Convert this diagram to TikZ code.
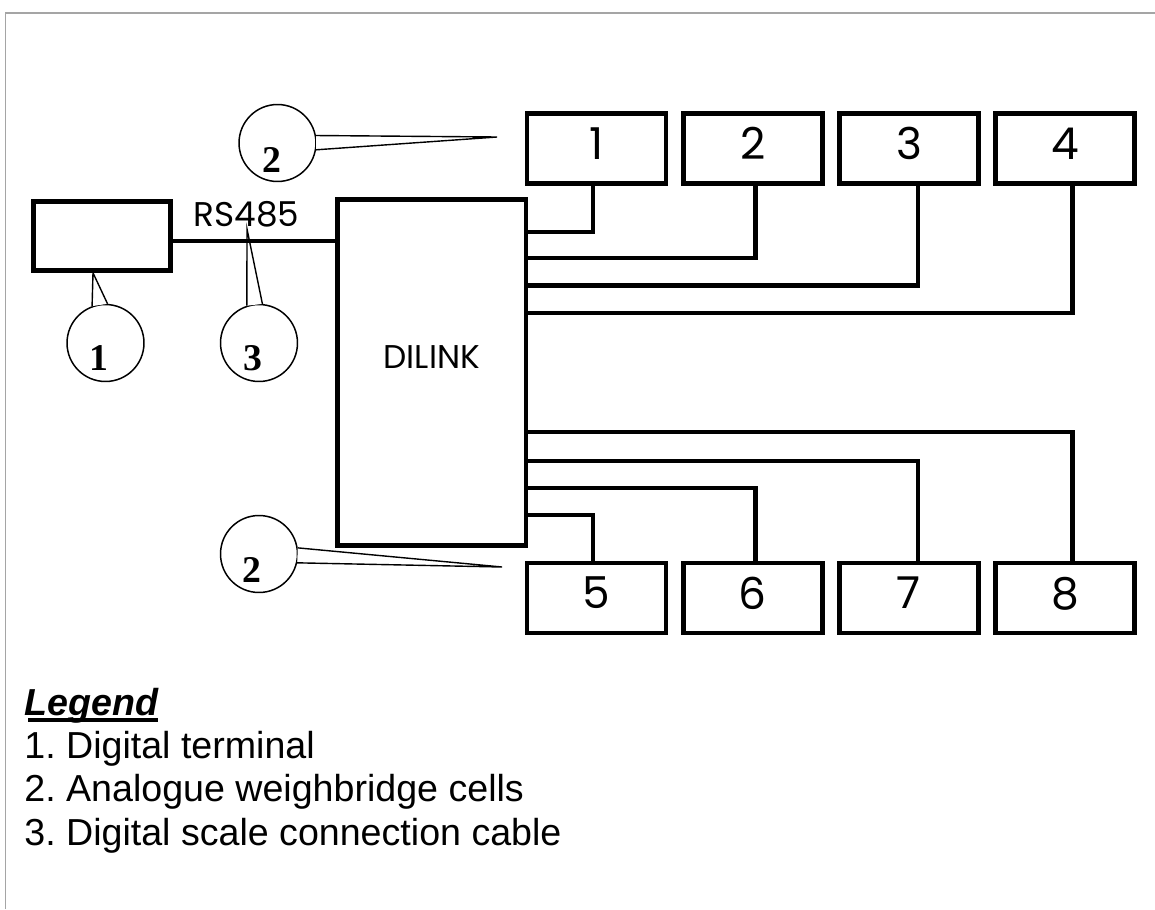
\documentclass[tikz,border=0pt]{standalone}
\usepackage{fontspec}
\setmainfont{Liberation Sans}
\newfontfamily\cadfont{Poppins}
\newfontfamily\tagfont{Liberation Serif}
\usetikzlibrary{calc,positioning}
\definecolor{framegray}{RGB}{165,165,165}
\pgfdeclarelayer{back}
\pgfsetlayers{back,main}
\frenchspacing

\begin{document}
\begin{tikzpicture}[x=0.02cm,y=-0.02cm,
  wire/.style={line width=2.7pt},
  unit/.style={draw,line width=2.7pt,inner sep=0pt},
  cell/.style={unit,minimum width=2.78cm,minimum height=1.40cm,
    font=\cadfont\fontsize{25}{27}\selectfont,text depth=0.2cm},
  callout/.style={circle,draw,line width=0.85pt,minimum size=1.54cm,inner sep=0pt},
  cnum/.style={font=\tagfont\bfseries\fontsize{21.5}{23}\selectfont,inner sep=0pt},
  leader/.style={line width=0.8pt},
  legtxt/.style={anchor=base west,inner sep=0pt,font=\fontsize{21.4}{24}\selectfont}]
  \useasboundingbox (0,0) rectangle (1155,909);
  \draw[framegray,line width=1.1pt] (5.5,909) -- (5.5,12.7) -- (1155,12.7);

  % terminal, link box and cells
  \node[unit,minimum width=2.74cm,minimum height=1.38cm] (term) at (102,236) {};
  \node[unit,minimum width=3.77cm,minimum height=6.92cm,text depth=0.62cm,
    font=\cadfont\fontsize{18.7}{20}\selectfont] (dilink) at (431.75,372.5) {DILINK};
  \node[inner sep=0pt,font=\cadfont\fontsize{19.5}{21}\selectfont] (rstxt) at (246.5,214) {RS485};

  \node[cell] (cell1) at (596.5,148.5) {1};
  \foreach \i [count=\j from 1] in {2,3,4}
    \node[cell,right=0.25cm of cell\j] (cell\i) {\i};
  \node[cell] (cell5) at (596.5,598) {5};
  \foreach \i [count=\j from 5] in {6,7,8}
    \node[cell,right=0.25cm of cell\j] (cell\i) {\i};

  % wiring
  \draw[wire] (term.east |- 0,241) -- (dilink.west |- 0,241);
  \foreach \k/\yy/\dx in {1/232/-3.5,2/258/3,3/285.5/9,4/313/7.5}
    \draw[wire] (dilink.east |- 0,\yy) -| ($(cell\k.south)+(\dx,0)$);
  \foreach \k/\yy/\dx in {5/515/-3.5,6/488/3,7/461/9,8/432/7.5}
    \draw[wire] (dilink.east |- 0,\yy) -| ($(cell\k.north)+(\dx,0)$);

  % callouts
  \begin{pgfonlayer}{back}
    \node[callout,label={[cnum,xshift=-0.13cm,yshift=-0.3cm]center:1}] (tag1) at (105.5,343) {};
    \node[callout,label={[cnum,xshift=-0.13cm,yshift=-0.3cm]center:3}] (tag3) at (259,343) {};
    \node[callout,label={[cnum,xshift=-0.12cm,yshift=-0.33cm]center:2}] (tag2a) at (277.5,143) {};
    \node[callout,label={[cnum,xshift=-0.15cm,yshift=-0.31cm]center:2}] (tag2b) at (259,554) {};
    \coordinate (tip1) at ($(term.south)+(-9,0)$);
    \coordinate (tip3) at (247,229);
    \coordinate (tip2a) at (497,137);
    \coordinate (tip2b) at (502,567);
    \foreach \t/\a/\b in {1/110.6/87.8, 3/108.4/85.6, 2a/11.7/-10.3, 2b/9/-13.3} {
      \fill[white] (tip\t) -- (tag\t.\a) -- (tag\t.\b) -- cycle;
      \draw[leader] (tag\t.\a) -- (tip\t) -- (tag\t.\b);
    }
  \end{pgfonlayer}

  % legend
  \node[legtxt] (legend) at (24,715) {\bfseries\itshape Legend};
  \draw[line width=1.8pt] ($(legend.base west)+(4,5)$) -- ($(legend.base east)+(0,5)$);
  \node[legtxt] (leg1) at (24,758) {1. Digital terminal};
  \node[legtxt] (leg2) at (24,801.5) {2. Analogue weighbridge cells};
  \node[legtxt] (leg3) at (24,845) {3. Digital scale connection cable};
\end{tikzpicture}
\end{document}
